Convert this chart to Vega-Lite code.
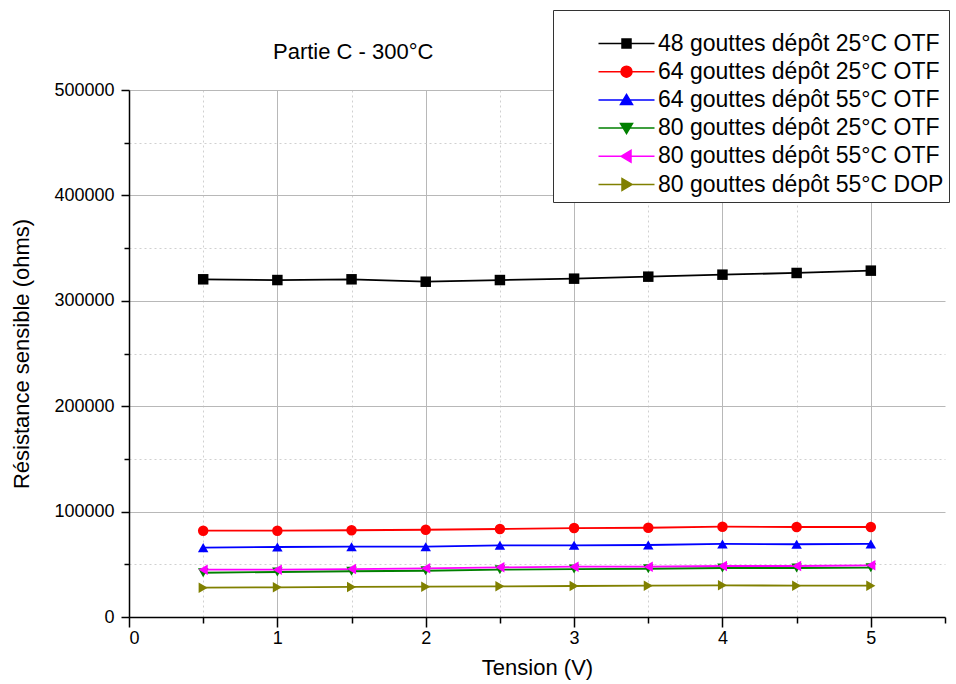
{
  "$schema": "https://vega.github.io/schema/vega-lite/v6.json",
  "autosize": {"type": "none"},
  "width": 816,
  "height": 527,
  "padding": {"left": 129, "top": 90, "right": 11, "bottom": 67},
  "background": "white",
  "config": {
    "font": "Liberation Sans",
    "view": {"stroke": null},
    "axis": {"labelFont": "Liberation Sans", "titleFont": "Liberation Sans", "labelColor": "#000", "titleColor": "#000", "domainColor": "#000", "tickColor": "#000", "titleFontWeight": "normal"},
    "legend": {
      "orient": "none", "legendX": 424, "legendY": -80,
      "strokeColor": "#333333", "fillColor": "white", "padding": 5,
      "titleFontSize": 17, "titlePadding": 0,
      "labelFontSize": 23, "labelFont": "Liberation Sans", "labelColor": "#000", "labelLimit": 400,
      "symbolSize": 400, "symbolOffset": 57, "labelOffset": 20, "rowPadding": 4.2
    }
  },
  "title": {"text": "Partie C - 300°C", "anchor": "start", "frame": "group", "dx": 144, "offset": -54, "fontSize": 22, "fontWeight": "normal", "font": "Liberation Sans", "color": "#000"},
  "data": {"values": [
    {"s": "48 gouttes dépôt 25°C OTF", "x": 0.5, "y": 320400},
    {"s": "48 gouttes dépôt 25°C OTF", "x": 1, "y": 319700},
    {"s": "48 gouttes dépôt 25°C OTF", "x": 1.5, "y": 320400},
    {"s": "48 gouttes dépôt 25°C OTF", "x": 2, "y": 318100},
    {"s": "48 gouttes dépôt 25°C OTF", "x": 2.5, "y": 319700},
    {"s": "48 gouttes dépôt 25°C OTF", "x": 3, "y": 321000},
    {"s": "48 gouttes dépôt 25°C OTF", "x": 3.5, "y": 322900},
    {"s": "48 gouttes dépôt 25°C OTF", "x": 4, "y": 324800},
    {"s": "48 gouttes dépôt 25°C OTF", "x": 4.5, "y": 326400},
    {"s": "48 gouttes dépôt 25°C OTF", "x": 5, "y": 328600},
    {"s": "64 gouttes dépôt 25°C OTF", "x": 0.5, "y": 81900},
    {"s": "64 gouttes dépôt 25°C OTF", "x": 1, "y": 81900},
    {"s": "64 gouttes dépôt 25°C OTF", "x": 1.5, "y": 82300},
    {"s": "64 gouttes dépôt 25°C OTF", "x": 2, "y": 82800},
    {"s": "64 gouttes dépôt 25°C OTF", "x": 2.5, "y": 83500},
    {"s": "64 gouttes dépôt 25°C OTF", "x": 3, "y": 84400},
    {"s": "64 gouttes dépôt 25°C OTF", "x": 3.5, "y": 84700},
    {"s": "64 gouttes dépôt 25°C OTF", "x": 4, "y": 85700},
    {"s": "64 gouttes dépôt 25°C OTF", "x": 4.5, "y": 85400},
    {"s": "64 gouttes dépôt 25°C OTF", "x": 5, "y": 85400},
    {"s": "64 gouttes dépôt 55°C OTF", "x": 0.5, "y": 65800},
    {"s": "64 gouttes dépôt 55°C OTF", "x": 1, "y": 66400},
    {"s": "64 gouttes dépôt 55°C OTF", "x": 1.5, "y": 66700},
    {"s": "64 gouttes dépôt 55°C OTF", "x": 2, "y": 66700},
    {"s": "64 gouttes dépôt 55°C OTF", "x": 2.5, "y": 68000},
    {"s": "64 gouttes dépôt 55°C OTF", "x": 3, "y": 68000},
    {"s": "64 gouttes dépôt 55°C OTF", "x": 3.5, "y": 68300},
    {"s": "64 gouttes dépôt 55°C OTF", "x": 4, "y": 69300},
    {"s": "64 gouttes dépôt 55°C OTF", "x": 4.5, "y": 69000},
    {"s": "64 gouttes dépôt 55°C OTF", "x": 5, "y": 69300},
    {"s": "80 gouttes dépôt 25°C OTF", "x": 0.5, "y": 42000},
    {"s": "80 gouttes dépôt 25°C OTF", "x": 1, "y": 42700},
    {"s": "80 gouttes dépôt 25°C OTF", "x": 1.5, "y": 43400},
    {"s": "80 gouttes dépôt 25°C OTF", "x": 2, "y": 43900},
    {"s": "80 gouttes dépôt 25°C OTF", "x": 2.5, "y": 44900},
    {"s": "80 gouttes dépôt 25°C OTF", "x": 3, "y": 45500},
    {"s": "80 gouttes dépôt 25°C OTF", "x": 3.5, "y": 45800},
    {"s": "80 gouttes dépôt 25°C OTF", "x": 4, "y": 46500},
    {"s": "80 gouttes dépôt 25°C OTF", "x": 4.5, "y": 46500},
    {"s": "80 gouttes dépôt 25°C OTF", "x": 5, "y": 46800},
    {"s": "80 gouttes dépôt 55°C OTF", "x": 0.5, "y": 44900},
    {"s": "80 gouttes dépôt 55°C OTF", "x": 1, "y": 44900},
    {"s": "80 gouttes dépôt 55°C OTF", "x": 1.5, "y": 45500},
    {"s": "80 gouttes dépôt 55°C OTF", "x": 2, "y": 46200},
    {"s": "80 gouttes dépôt 55°C OTF", "x": 2.5, "y": 47100},
    {"s": "80 gouttes dépôt 55°C OTF", "x": 3, "y": 47700},
    {"s": "80 gouttes dépôt 55°C OTF", "x": 3.5, "y": 47700},
    {"s": "80 gouttes dépôt 55°C OTF", "x": 4, "y": 48400},
    {"s": "80 gouttes dépôt 55°C OTF", "x": 4.5, "y": 48400},
    {"s": "80 gouttes dépôt 55°C OTF", "x": 5, "y": 49000},
    {"s": "80 gouttes dépôt 55°C DOP", "x": 0.5, "y": 27800},
    {"s": "80 gouttes dépôt 55°C DOP", "x": 1, "y": 28200},
    {"s": "80 gouttes dépôt 55°C DOP", "x": 1.5, "y": 28500},
    {"s": "80 gouttes dépôt 55°C DOP", "x": 2, "y": 28800},
    {"s": "80 gouttes dépôt 55°C DOP", "x": 2.5, "y": 29100},
    {"s": "80 gouttes dépôt 55°C DOP", "x": 3, "y": 29400},
    {"s": "80 gouttes dépôt 55°C DOP", "x": 3.5, "y": 29700},
    {"s": "80 gouttes dépôt 55°C DOP", "x": 4, "y": 30100},
    {"s": "80 gouttes dépôt 55°C DOP", "x": 4.5, "y": 29700},
    {"s": "80 gouttes dépôt 55°C DOP", "x": 5, "y": 29700}
  ]},
  "encoding": {
    "x": {"field": "x", "type": "quantitative", "title": "Tension (V)",
      "scale": {"domain": [0, 5.5], "nice": false, "zero": false},
      "axis": {
        "values": [0, 0.5, 1, 1.5, 2, 2.5, 3, 3.5, 4, 4.5, 5, 5.5],
        "labelExpr": "datum.value % 1 === 0 ? format(datum.value, 'd') : ''",
        "labelFontSize": 18, "labelPadding": 2, "titleFontSize": 22, "titlePadding": 10,
        "tickSize": {"condition": {"test": "datum.value % 1 !== 0", "value": 6}, "value": 10},
        "tickWidth": 1.5, "domainWidth": 1.5,
        "grid": true,
        "gridColor": {"condition": {"test": "datum.value % 1 !== 0", "value": "#d0d0d0"}, "value": "#b8b8b8"},
        "gridDash": {"condition": {"test": "datum.value % 1 !== 0", "value": [2, 3]}, "value": []},
        "gridOpacity": {"condition": {"test": "datum.value === 5.5 || datum.value === 0", "value": 0}, "value": 1}
      }},
    "y": {"field": "y", "type": "quantitative", "title": "Résistance sensible (ohms)",
      "scale": {"domain": [0, 500000], "nice": false},
      "axis": {
        "values": [0, 50000, 100000, 150000, 200000, 250000, 300000, 350000, 400000, 450000, 500000],
        "labelExpr": "datum.value % 100000 === 0 ? format(datum.value, 'd') : ''",
        "labelFontSize": 18, "labelPadding": 7, "titleFontSize": 22, "titlePadding": 20,
        "tickSize": {"condition": {"test": "datum.value % 100000 !== 0", "value": 5}, "value": 8},
        "tickWidth": 1.5, "domainWidth": 1.5,
        "grid": true,
        "gridColor": {"condition": {"test": "datum.value % 100000 !== 0", "value": "#d0d0d0"}, "value": "#b8b8b8"},
        "gridDash": {"condition": {"test": "datum.value % 100000 !== 0", "value": [2, 3]}, "value": []},
        "gridOpacity": {"condition": {"test": "datum.value === 0", "value": 0}, "value": 1}
      }},
    "color": {"field": "s", "type": "nominal", "legend": null,
      "scale": {
        "domain": ["48 gouttes dépôt 25°C OTF", "64 gouttes dépôt 25°C OTF", "64 gouttes dépôt 55°C OTF", "80 gouttes dépôt 25°C OTF", "80 gouttes dépôt 55°C OTF", "80 gouttes dépôt 55°C DOP"],
        "range": ["#000000", "#ff0000", "#0000ff", "#008000", "#ff00ff", "#808000"]}}
  },
  "layer": [
    {"mark": {"type": "line", "strokeWidth": 1.8}},
    {"mark": {"type": "point", "filled": true, "opacity": 1, "size": 110},
     "encoding": {
       "shape": {"field": "s", "type": "nominal", "legend": null,
         "scale": {
           "domain": ["48 gouttes dépôt 25°C OTF", "64 gouttes dépôt 25°C OTF", "64 gouttes dépôt 55°C OTF", "80 gouttes dépôt 25°C OTF", "80 gouttes dépôt 55°C OTF", "80 gouttes dépôt 55°C DOP"],
           "range": ["square", "circle", "triangle-up", "triangle-down", "triangle-left", "triangle-right"]}}
     }},
    {"transform": [{"filter": "false"}],
     "mark": {"type": "point", "filled": true, "opacity": 1},
     "encoding": {
       "shape": {"field": "s", "type": "nominal", "title": " ",
         "scale": {
           "domain": ["48 gouttes dépôt 25°C OTF", "64 gouttes dépôt 25°C OTF", "64 gouttes dépôt 55°C OTF", "80 gouttes dépôt 25°C OTF", "80 gouttes dépôt 55°C OTF", "80 gouttes dépôt 55°C DOP"],
           "range": ["M-2.8,0H2.8M-0.45,-0.45H0.45V0.45H-0.45Z", "M-2.8,0H2.8M-0.55,0A0.55,0.55 0 1,0 0.55,0A0.55,0.55 0 1,0 -0.55,0Z", "M-2.8,0H2.8M0,-0.55L0.6,0.45H-0.6Z", "M-2.8,0H2.8M0,0.55L0.6,-0.45H-0.6Z", "M-2.8,0H2.8M-0.55,0L0.45,-0.6V0.6Z", "M-2.8,0H2.8M0.55,0L-0.45,-0.6V0.6Z"]},
         "legend": {
           "encoding": {"symbols": {
             "stroke": {"value": {"expr": "scale('color', datum.value)"}},
             "fill": {"value": {"expr": "scale('color', datum.value)"}},
             "strokeWidth": {"value": 1.5},
             "opacity": {"value": 1}
           }}
         }}
     }}
  ],
  "resolve": {"scale": {"shape": "independent"}, "legend": {"shape": "independent"}}
}
